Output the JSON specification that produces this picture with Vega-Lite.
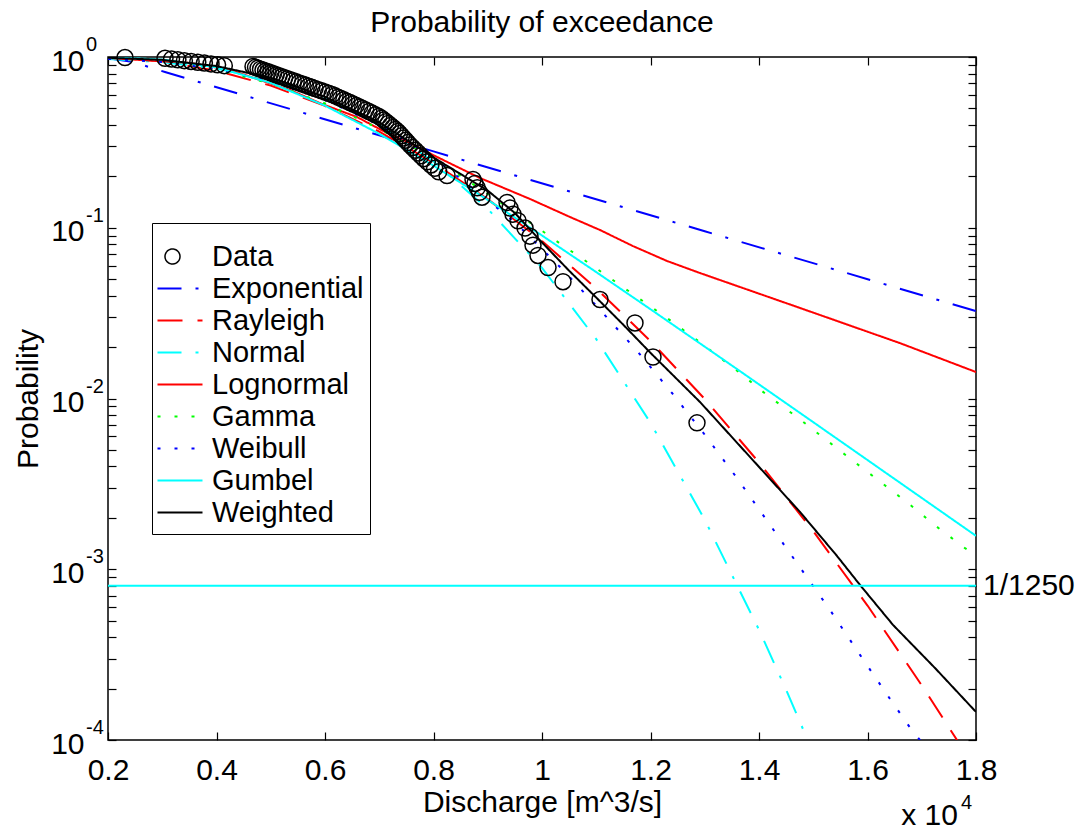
{
  "$schema": "https://vega.github.io/schema/vega-lite/v6.json",
  "width": 868,
  "height": 683,
  "autosize": "none",
  "padding": {"left": 108, "top": 57, "right": 103, "bottom": 92},
  "background": "white",
  "title": {"text": "Probability of exceedance", "fontSize": 30, "fontWeight": "normal", "font": "Liberation Sans", "color": "black", "offset": -3, "anchor": "middle"},
  "config": {
    "font": "Liberation Sans",
    "view": {"stroke": "black", "strokeWidth": 1.5},
    "axis": {"grid": false, "domain": false, "labelFont": "Liberation Sans", "titleFont": "Liberation Sans", "labelFontSize": 30, "titleFontSize": 30, "titleFontWeight": "normal", "labelColor": "black", "titleColor": "black", "tickColor": "black", "tickWidth": 1.2}
  },
  "resolve": {"axis": {"x": "independent", "y": "independent"}},
  "layer": [
    {
      "data": {"values": [
        {"s": "Exponential", "q": 2000, "p": 0.985}, {"s": "Exponential", "q": 2460, "p": 0.935}, {"s": "Exponential", "q": 3050, "p": 0.817}, {"s": "Exponential", "q": 8000, "p": 0.280}, {"s": "Exponential", "q": 13000, "p": 0.0954}, {"s": "Exponential", "q": 18000, "p": 0.0325},
        {"s": "Rayleigh", "q": 2000, "p": 0.9975}, {"s": "Rayleigh", "q": 3000, "p": 0.944}, {"s": "Rayleigh", "q": 4000, "p": 0.830}, {"s": "Rayleigh", "q": 5000, "p": 0.680}, {"s": "Rayleigh", "q": 6000, "p": 0.517}, {"s": "Rayleigh", "q": 7000, "p": 0.366}, {"s": "Rayleigh", "q": 8000, "p": 0.240}, {"s": "Rayleigh", "q": 9000, "p": 0.147}, {"s": "Rayleigh", "q": 10000, "p": 0.0836}, {"s": "Rayleigh", "q": 11000, "p": 0.0441}, {"s": "Rayleigh", "q": 12000, "p": 0.0217}, {"s": "Rayleigh", "q": 13000, "p": 0.00993}, {"s": "Rayleigh", "q": 14000, "p": 0.00422}, {"s": "Rayleigh", "q": 15000, "p": 0.00167}, {"s": "Rayleigh", "q": 16000, "p": 0.000613}, {"s": "Rayleigh", "q": 17000, "p": 0.000209}, {"s": "Rayleigh", "q": 17800, "p": 0.0000843},
        {"s": "Normal", "q": 2000, "p": 0.9737}, {"s": "Normal", "q": 3000, "p": 0.9332}, {"s": "Normal", "q": 4000, "p": 0.8557}, {"s": "Normal", "q": 5000, "p": 0.7334}, {"s": "Normal", "q": 6000, "p": 0.5731}, {"s": "Normal", "q": 7000, "p": 0.3997}, {"s": "Normal", "q": 8000, "p": 0.2442}, {"s": "Normal", "q": 9000, "p": 0.1289}, {"s": "Normal", "q": 10000, "p": 0.0582}, {"s": "Normal", "q": 11000, "p": 0.02227}, {"s": "Normal", "q": 12000, "p": 0.0072}, {"s": "Normal", "q": 13000, "p": 0.00195}, {"s": "Normal", "q": 14000, "p": 0.000442}, {"s": "Normal", "q": 14500, "p": 0.000197}, {"s": "Normal", "q": 15000, "p": 0.0000839},
        {"s": "Lognormal", "q": 2000, "p": 0.9866}, {"s": "Lognormal", "q": 3512, "p": 0.9223}, {"s": "Lognormal", "q": 4249, "p": 0.8393}, {"s": "Lognormal", "q": 4857, "p": 0.7236}, {"s": "Lognormal", "q": 5355, "p": 0.6408}, {"s": "Lognormal", "q": 5945, "p": 0.5305}, {"s": "Lognormal", "q": 6590, "p": 0.4452}, {"s": "Lognormal", "q": 7143, "p": 0.3589}, {"s": "Lognormal", "q": 7567, "p": 0.3135}, {"s": "Lognormal", "q": 7991, "p": 0.2667}, {"s": "Lognormal", "q": 8857, "p": 0.1956}, {"s": "Lognormal", "q": 9779, "p": 0.1474}, {"s": "Lognormal", "q": 10516, "p": 0.1156}, {"s": "Lognormal", "q": 11069, "p": 0.0970}, {"s": "Lognormal", "q": 11677, "p": 0.0781}, {"s": "Lognormal", "q": 12304, "p": 0.0639}, {"s": "Lognormal", "q": 12912, "p": 0.0543}, {"s": "Lognormal", "q": 14756, "p": 0.0339}, {"s": "Lognormal", "q": 16599, "p": 0.0211}, {"s": "Lognormal", "q": 18000, "p": 0.01429},
        {"s": "Gamma", "q": 2000, "p": 0.985}, {"s": "Gamma", "q": 3000, "p": 0.94}, {"s": "Gamma", "q": 4000, "p": 0.845}, {"s": "Gamma", "q": 5000, "p": 0.70}, {"s": "Gamma", "q": 6000, "p": 0.535}, {"s": "Gamma", "q": 7000, "p": 0.38}, {"s": "Gamma", "q": 8000, "p": 0.255}, {"s": "Gamma", "q": 9000, "p": 0.158}, {"s": "Gamma", "q": 10000, "p": 0.096}, {"s": "Gamma", "q": 10424, "p": 0.0771}, {"s": "Gamma", "q": 10700, "p": 0.0674}, {"s": "Gamma", "q": 12304, "p": 0.0296}, {"s": "Gamma", "q": 12857, "p": 0.0220}, {"s": "Gamma", "q": 13650, "p": 0.0141}, {"s": "Gamma", "q": 14147, "p": 0.01048}, {"s": "Gamma", "q": 14700, "p": 0.00779}, {"s": "Gamma", "q": 15714, "p": 0.00436}, {"s": "Gamma", "q": 16747, "p": 0.00244}, {"s": "Gamma", "q": 17281, "p": 0.00177}, {"s": "Gamma", "q": 17797, "p": 0.00133}, {"s": "Gamma", "q": 18000, "p": 0.00121},
        {"s": "Weibull", "q": 2000, "p": 0.975}, {"s": "Weibull", "q": 3000, "p": 0.935}, {"s": "Weibull", "q": 4000, "p": 0.85}, {"s": "Weibull", "q": 5000, "p": 0.72}, {"s": "Weibull", "q": 6000, "p": 0.56}, {"s": "Weibull", "q": 7000, "p": 0.40}, {"s": "Weibull", "q": 8000, "p": 0.258}, {"s": "Weibull", "q": 8949, "p": 0.149}, {"s": "Weibull", "q": 9500, "p": 0.108}, {"s": "Weibull", "q": 10000, "p": 0.075}, {"s": "Weibull", "q": 10424, "p": 0.0551}, {"s": "Weibull", "q": 11106, "p": 0.0321}, {"s": "Weibull", "q": 11770, "p": 0.01872}, {"s": "Weibull", "q": 12396, "p": 0.01077}, {"s": "Weibull", "q": 13005, "p": 0.00611}, {"s": "Weibull", "q": 13594, "p": 0.00342}, {"s": "Weibull", "q": 14166, "p": 0.00189}, {"s": "Weibull", "q": 14737, "p": 0.001045}, {"s": "Weibull", "q": 15309, "p": 0.000577}, {"s": "Weibull", "q": 15862, "p": 0.000315}, {"s": "Weibull", "q": 16415, "p": 0.000174}, {"s": "Weibull", "q": 16802, "p": 0.000116}, {"s": "Weibull", "q": 17060, "p": 0.000092},
        {"s": "Gumbel", "q": 2000, "p": 0.99657}, {"s": "Gumbel", "q": 3000, "p": 0.96663}, {"s": "Gumbel", "q": 4000, "p": 0.86964}, {"s": "Gumbel", "q": 5000, "p": 0.70506}, {"s": "Gumbel", "q": 6000, "p": 0.51895}, {"s": "Gumbel", "q": 7000, "p": 0.355}, {"s": "Gumbel", "q": 8000, "p": 0.23113}, {"s": "Gumbel", "q": 9000, "p": 0.14572}, {"s": "Gumbel", "q": 10000, "p": 0.09004}, {"s": "Gumbel", "q": 11000, "p": 0.05498}, {"s": "Gumbel", "q": 12000, "p": 0.03332}, {"s": "Gumbel", "q": 13000, "p": 0.02011}, {"s": "Gumbel", "q": 14000, "p": 0.0121}, {"s": "Gumbel", "q": 15000, "p": 0.007267}, {"s": "Gumbel", "q": 16000, "p": 0.004361}, {"s": "Gumbel", "q": 17000, "p": 0.002616}, {"s": "Gumbel", "q": 18000, "p": 0.001569},
        {"s": "Weighted", "q": 2000, "p": 0.99}, {"s": "Weighted", "q": 3000, "p": 0.962}, {"s": "Weighted", "q": 4000, "p": 0.885}, {"s": "Weighted", "q": 5000, "p": 0.755}, {"s": "Weighted", "q": 6000, "p": 0.585}, {"s": "Weighted", "q": 7000, "p": 0.415}, {"s": "Weighted", "q": 8000, "p": 0.258}, {"s": "Weighted", "q": 9000, "p": 0.165}, {"s": "Weighted", "q": 9500, "p": 0.122}, {"s": "Weighted", "q": 10000, "p": 0.082}, {"s": "Weighted", "q": 10500, "p": 0.056}, {"s": "Weighted", "q": 11000, "p": 0.039}, {"s": "Weighted", "q": 11500, "p": 0.027}, {"s": "Weighted", "q": 12000, "p": 0.0185}, {"s": "Weighted", "q": 12912, "p": 0.00954}, {"s": "Weighted", "q": 13650, "p": 0.00527}, {"s": "Weighted", "q": 14756, "p": 0.002165}, {"s": "Weighted", "q": 15438, "p": 0.001196}, {"s": "Weighted", "q": 15862, "p": 0.000809}, {"s": "Weighted", "q": 16470, "p": 0.000472}, {"s": "Weighted", "q": 17244, "p": 0.000264}, {"s": "Weighted", "q": 18000, "p": 0.000146}
      ]},
      "mark": {"type": "line", "strokeWidth": 2, "clip": true},
      "encoding": {
        "x": {"field": "q", "type": "quantitative", "scale": {"domain": [2000, 18000], "nice": false, "zero": false},
          "axis": {"orient": "bottom", "offset": -8, "tickSize": 8, "values": [2000, 4000, 6000, 8000, 10000, 12000, 14000, 16000, 18000], "labelExpr": "toString(datum.value/10000)", "labelPadding": 15, "labelFlush": false, "labelOverlap": false, "title": "Discharge [m^3/s]", "titlePadding": 2}},
        "y": {"field": "p", "type": "quantitative", "scale": {"type": "log", "domain": [0.0001, 1], "nice": false},
          "axis": {"orient": "left", "offset": -8, "tickSize": 8, "values": [0.0001, 0.0002, 0.0003, 0.0004, 0.0005, 0.0006, 0.0007, 0.0008, 0.0009, 0.001, 0.002, 0.003, 0.004, 0.005, 0.006, 0.007, 0.008, 0.009, 0.01, 0.02, 0.03, 0.04, 0.05, 0.06, 0.07, 0.08, 0.09, 0.1, 0.2, 0.3, 0.4, 0.5, 0.6, 0.7, 0.8, 0.9, 1],
            "labelExpr": "abs(log(datum.value)/LN10 - round(log(datum.value)/LN10)) < 0.001 ? '10' : ''", "labelPadding": 24, "labelOffset": 4, "labelOverlap": false, "labelFlush": false, "title": "Probability", "titlePadding": 7}},
        "color": {"field": "s", "type": "nominal",
          "scale": {"domain": ["Data", "Exponential", "Rayleigh", "Normal", "Lognormal", "Gamma", "Weibull", "Gumbel", "Weighted"], "range": ["black", "#0000ff", "#ff0000", "#00ffff", "#ff0000", "#00ff00", "#0000ff", "#00ffff", "black"]},
          "legend": {"title": " ", "titleFontSize": 13, "titlePadding": 0, "orient": "none", "legendX": 44, "legendY": 166, "direction": "vertical", "fillColor": "white", "strokeColor": "black", "padding": 6, "cornerRadius": 0,
            "labelFontSize": 29, "labelFont": "Liberation Sans", "labelColor": "black", "labelLimit": 0, "labelOffset": 25, "symbolSize": 2025, "rowPadding": 2, "symbolStrokeWidth": 2, "symbolType": "stroke",
            "encode": {"symbols": {"update": {
              "shape": {"signal": "datum.value === 'Data' ? 'circle' : 'stroke'"},
              "size": {"signal": "datum.value === 'Data' ? 225 : 2025"},
              "x": {"signal": "(datum.size || 30) * 0.5 + (datum.value === 'Data' ? 0 : 7.5)"},
              "fill": {"value": "transparent"},
              "strokeWidth": {"signal": "datum.value === 'Data' ? 1.5 : 2"}}}}}},
        "strokeDash": {"field": "s", "type": "nominal",
          "scale": {"domain": ["Data", "Exponential", "Rayleigh", "Normal", "Lognormal", "Gamma", "Weibull", "Gumbel", "Weighted"], "range": [[1, 0], [24, 14, 3, 14], [25, 15], [24, 14, 3, 14], [1, 0], [3, 14], [3, 14], [1, 0], [1, 0]]}}
      }
    },
    {
      "data": {"values": [
        {"q": 2313, "p": 0.9928}, {"q": 3051, "p": 0.9825}, {"q": 3171, "p": 0.9723}, {"q": 3288, "p": 0.9620}, {"q": 3408, "p": 0.9517}, {"q": 3532, "p": 0.9415}, {"q": 3655, "p": 0.9312}, {"q": 3777, "p": 0.9209}, {"q": 3899, "p": 0.9107}, {"q": 4020, "p": 0.9004}, {"q": 4144, "p": 0.8901},
        {"q": 4673, "p": 0.8799}, {"q": 4719, "p": 0.8696}, {"q": 4765, "p": 0.8593}, {"q": 4811, "p": 0.8491}, {"q": 4857, "p": 0.8388}, {"q": 4905, "p": 0.8285}, {"q": 4953, "p": 0.8183}, {"q": 5001, "p": 0.8080}, {"q": 5051, "p": 0.7977}, {"q": 5100, "p": 0.7875},
        {"q": 5152, "p": 0.7772}, {"q": 5204, "p": 0.7669}, {"q": 5255, "p": 0.7567}, {"q": 5307, "p": 0.7464}, {"q": 5360, "p": 0.7361}, {"q": 5414, "p": 0.7259}, {"q": 5469, "p": 0.7156}, {"q": 5524, "p": 0.7053}, {"q": 5582, "p": 0.6951}, {"q": 5639, "p": 0.6848},
        {"q": 5698, "p": 0.6745}, {"q": 5757, "p": 0.6643}, {"q": 5816, "p": 0.6540}, {"q": 5878, "p": 0.6437}, {"q": 5939, "p": 0.6335}, {"q": 6002, "p": 0.6232}, {"q": 6066, "p": 0.6129}, {"q": 6131, "p": 0.6027}, {"q": 6186, "p": 0.5924}, {"q": 6240, "p": 0.5821},
        {"q": 6293, "p": 0.5719}, {"q": 6348, "p": 0.5616}, {"q": 6404, "p": 0.5513}, {"q": 6461, "p": 0.5411}, {"q": 6518, "p": 0.5308}, {"q": 6577, "p": 0.5205}, {"q": 6638, "p": 0.5103}, {"q": 6693, "p": 0.5000}, {"q": 6752, "p": 0.4897}, {"q": 6809, "p": 0.4795},
        {"q": 6868, "p": 0.4692}, {"q": 6929, "p": 0.4589}, {"q": 6992, "p": 0.4487}, {"q": 7040, "p": 0.4384}, {"q": 7080, "p": 0.4281}, {"q": 7121, "p": 0.4179}, {"q": 7163, "p": 0.4076}, {"q": 7207, "p": 0.3973}, {"q": 7252, "p": 0.3871}, {"q": 7296, "p": 0.3768},
        {"q": 7338, "p": 0.3665}, {"q": 7373, "p": 0.3563}, {"q": 7410, "p": 0.3460}, {"q": 7447, "p": 0.3357}, {"q": 7486, "p": 0.3255}, {"q": 7526, "p": 0.3152}, {"q": 7567, "p": 0.3049}, {"q": 7615, "p": 0.2947}, {"q": 7665, "p": 0.2844}, {"q": 7716, "p": 0.2741},
        {"q": 7768, "p": 0.2639}, {"q": 7823, "p": 0.2536}, {"q": 7886, "p": 0.2433}, {"q": 7952, "p": 0.2331}, {"q": 8022, "p": 0.2228}, {"q": 8096, "p": 0.2125}, {"q": 8249, "p": 0.2023}, {"q": 8728, "p": 0.1920}, {"q": 8765, "p": 0.1817}, {"q": 8806, "p": 0.1715},
        {"q": 8848, "p": 0.1612}, {"q": 8894, "p": 0.1509}, {"q": 9355, "p": 0.1407}, {"q": 9410, "p": 0.1304}, {"q": 9465, "p": 0.1201}, {"q": 9558, "p": 0.1099}, {"q": 9687, "p": 0.0996}, {"q": 9779, "p": 0.0893}, {"q": 9834, "p": 0.0791}, {"q": 9926, "p": 0.0688},
        {"q": 10111, "p": 0.0585}, {"q": 10387, "p": 0.0483}, {"q": 11069, "p": 0.0380}, {"q": 11714, "p": 0.0277}, {"q": 12046, "p": 0.0175}, {"q": 12857, "p": 0.0072}
      ]},
      "mark": {"type": "point", "shape": "circle", "filled": false, "stroke": "black", "strokeWidth": 1.5, "size": 256, "opacity": 1},
      "encoding": {
        "x": {"field": "q", "type": "quantitative", "scale": {"domain": [2000, 18000], "nice": false, "zero": false},
          "axis": {"orient": "top", "offset": -8, "tickSize": 8, "values": [2000, 4000, 6000, 8000, 10000, 12000, 14000, 16000, 18000], "labels": false, "title": null}},
        "y": {"field": "p", "type": "quantitative", "scale": {"type": "log", "domain": [0.0001, 1], "nice": false},
          "axis": {"orient": "right", "offset": -8, "tickSize": 8, "values": [0.0001, 0.0002, 0.0003, 0.0004, 0.0005, 0.0006, 0.0007, 0.0008, 0.0009, 0.001, 0.002, 0.003, 0.004, 0.005, 0.006, 0.007, 0.008, 0.009, 0.01, 0.02, 0.03, 0.04, 0.05, 0.06, 0.07, 0.08, 0.09, 0.1, 0.2, 0.3, 0.4, 0.5, 0.6, 0.7, 0.8, 0.9, 1], "labels": false, "title": null}}
      }
    },
    {
      "data": {"values": [{"level": 0.0008}]},
      "mark": {"type": "rule", "color": "#00ffff", "strokeWidth": 2},
      "encoding": {
        "y": {"field": "level", "type": "quantitative", "scale": {"type": "log", "domain": [0.0001, 1], "nice": false}, "axis": null}
      }
    },
    {
      "data": {"values": [{"label": "1/1250", "q": 18000, "p": 0.0008}]},
      "mark": {"type": "text", "align": "left", "baseline": "middle", "dx": 7, "fontSize": 30, "font": "Liberation Sans", "fill": "black"},
      "encoding": {
        "x": {"field": "q", "type": "quantitative", "scale": {"domain": [2000, 18000], "nice": false, "zero": false}, "axis": null},
        "y": {"field": "p", "type": "quantitative", "scale": {"type": "log", "domain": [0.0001, 1], "nice": false}, "axis": null},
        "text": {"field": "label"}
      }
    },
    {
      "data": {"values": [{"q": 2000, "p": 1, "e": "0"}, {"q": 2000, "p": 0.1, "e": "-1"}, {"q": 2000, "p": 0.01, "e": "-2"}, {"q": 2000, "p": 0.001, "e": "-3"}, {"q": 2000, "p": 0.0001, "e": "-4"}]},
      "mark": {"type": "text", "align": "left", "baseline": "middle", "dx": -22, "dy": -12, "fontSize": 20, "font": "Liberation Sans", "fill": "black"},
      "encoding": {
        "x": {"field": "q", "type": "quantitative", "scale": {"domain": [2000, 18000], "nice": false, "zero": false}, "axis": null},
        "y": {"field": "p", "type": "quantitative", "scale": {"type": "log", "domain": [0.0001, 1], "nice": false}, "axis": null},
        "text": {"field": "e"}
      }
    },
    {
      "data": {"values": [{"t": "x 10", "q": 18000, "p": 0.0001}]},
      "mark": {"type": "text", "align": "right", "baseline": "middle", "dx": -18, "dy": 76, "fontSize": 30, "font": "Liberation Sans", "fill": "black"},
      "encoding": {
        "x": {"field": "q", "type": "quantitative", "scale": {"domain": [2000, 18000], "nice": false, "zero": false}, "axis": null},
        "y": {"field": "p", "type": "quantitative", "scale": {"type": "log", "domain": [0.0001, 1], "nice": false}, "axis": null},
        "text": {"field": "t"}
      }
    },
    {
      "data": {"values": [{"t": "4", "q": 18000, "p": 0.0001}]},
      "mark": {"type": "text", "align": "left", "baseline": "middle", "dx": -15, "dy": 63, "fontSize": 20, "font": "Liberation Sans", "fill": "black"},
      "encoding": {
        "x": {"field": "q", "type": "quantitative", "scale": {"domain": [2000, 18000], "nice": false, "zero": false}, "axis": null},
        "y": {"field": "p", "type": "quantitative", "scale": {"type": "log", "domain": [0.0001, 1], "nice": false}, "axis": null},
        "text": {"field": "t"}
      }
    }
  ]
}
